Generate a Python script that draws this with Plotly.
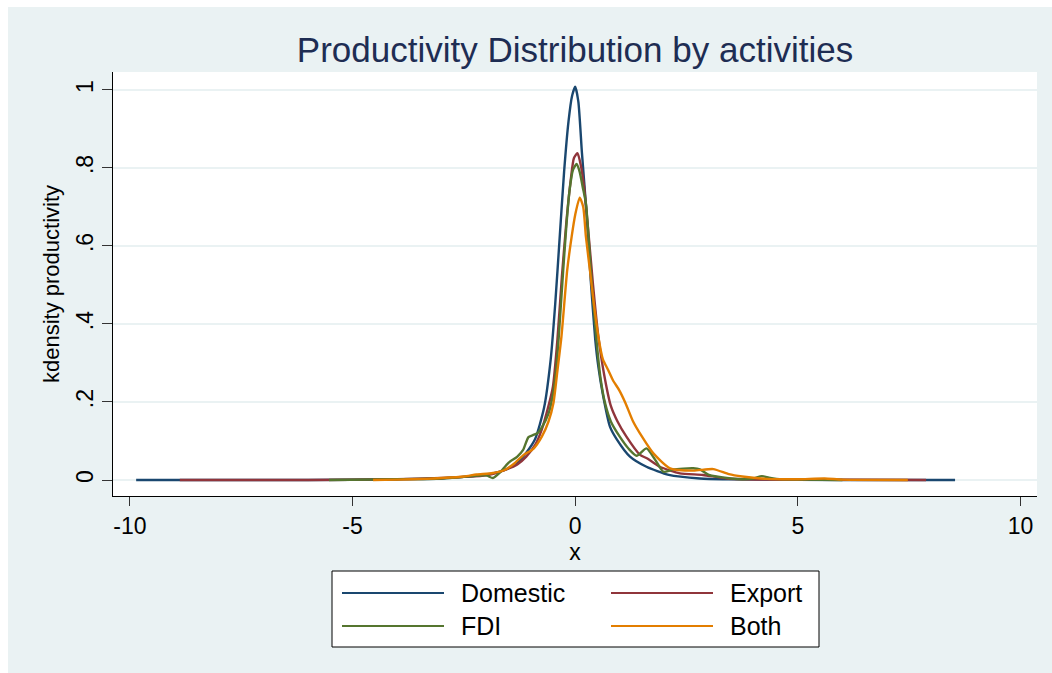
import plotly.graph_objects as go

# ---------------- data ----------------
series_names = ["Domestic", "Export", "FDI", "Both"]
series_colors = ["#1a476f", "#90353b", "#55752f", "#e37e00"]

domestic_x = [-9.86, -8, -6, -4, -3, -2.5, -2, -1.6, -1.3, -1.1, -0.9, -0.7, -0.55, -0.45,
              -0.35, -0.25, -0.15, -0.07, 0, 0.07, 0.15, 0.25, 0.35, 0.45, 0.52, 0.62, 0.78,
              0.93, 1.23, 1.6, 2.1, 2.8, 3.5, 5, 7, 8.53]
domestic_y = [0, 0, 0, 0.002, 0.004, 0.008, 0.014, 0.025, 0.045, 0.07, 0.105, 0.185, 0.31, 0.45,
              0.62, 0.79, 0.92, 0.985, 1.008, 0.97, 0.84, 0.69, 0.51, 0.36, 0.29, 0.22, 0.137,
              0.105, 0.06, 0.034, 0.013, 0.004, 0.002, 0.0005, 0, 0]

export_x = [-8.88, -6, -4, -3, -2.5, -2, -1.6, -1.3, -1.1, -0.9, -0.75, -0.6, -0.5, -0.4, -0.3,
            -0.2, -0.1, -0.03, 0.05, 0.12, 0.2, 0.3, 0.4, 0.52, 0.65, 0.8, 0.95, 1.15, 1.45,
            1.62, 1.9, 2.35, 2.87, 3.4, 4.5, 6, 7.88]
export_y = [0, 0, 0.002, 0.005, 0.008, 0.012, 0.025, 0.04, 0.06, 0.09, 0.13, 0.19, 0.24, 0.36,
            0.52, 0.66, 0.77, 0.825, 0.838, 0.81, 0.75, 0.63, 0.5, 0.367, 0.27, 0.19, 0.15,
            0.111, 0.065, 0.055, 0.034, 0.017, 0.013, 0.004, 0.001, 0.0005, 0]

fdi_x = [-5.53, -4, -3, -2.5, -2, -1.85, -1.7, -1.5, -1.3, -1.17, -1.05, -0.95, -0.85, -0.75,
         -0.6, -0.5, -0.43, -0.37, -0.27, -0.2, -0.13, -0.05, 0.03, 0.1, 0.17, 0.24, 0.35,
         0.47, 0.57, 0.67, 0.8, 1.0, 1.2, 1.38, 1.6, 1.8, 1.98, 2.2, 2.65, 2.8, 3.0, 3.5,
         3.75, 4.0, 4.19, 4.35, 4.52, 5.0, 6.0]
fdi_y = [0, 0.002, 0.004, 0.008, 0.012, 0.005, 0.018, 0.044, 0.06, 0.077, 0.11, 0.115, 0.12,
         0.135, 0.17, 0.22, 0.282, 0.367, 0.538, 0.65, 0.74, 0.795, 0.81, 0.79, 0.75, 0.709,
         0.538, 0.367, 0.26, 0.197, 0.15, 0.111, 0.08, 0.062, 0.081, 0.051, 0.021, 0.027,
         0.030, 0.027, 0.013, 0.004, 0.002, 0.004, 0.010, 0.006, 0.003, 0.001, 0]

both_x = [-4.54, -4, -3.34, -3, -2.5, -2.22, -1.85, -1.6, -1.36, -1.15, -0.94, -0.75, -0.6,
          -0.49, -0.4, -0.31, -0.18, -0.08, 0.0, 0.1, 0.18, 0.24, 0.33, 0.42, 0.52, 0.62,
          0.74, 0.85, 0.99, 1.13, 1.3, 1.5, 1.75, 2.13, 2.65, 3.1, 3.45, 3.75, 4.3, 5.0,
          5.6, 6.0, 7.47]
both_y = [0, 0.001, 0.003, 0.005, 0.009, 0.014, 0.018, 0.025, 0.043, 0.065, 0.08, 0.111, 0.15,
          0.197, 0.28, 0.367, 0.538, 0.624, 0.68, 0.724, 0.70, 0.624, 0.538, 0.45, 0.367,
          0.31, 0.282, 0.255, 0.23, 0.197, 0.15, 0.111, 0.069, 0.03, 0.024, 0.028, 0.015,
          0.009, 0.003, 0.002, 0.004, 0.001, 0]

series_x = [domestic_x, export_x, fdi_x, both_x]
series_y = [domestic_y, export_y, fdi_y, both_y]

x_tickvals = [-10, -5, 0, 5, 10]
x_ticktext = ["-10", "-5", "0", "5", "10"]
y_tickvals = [0, 0.2, 0.4, 0.6, 0.8, 1.0]
y_ticktext = ["0", ".2", ".4", ".6", ".8", "1"]

title_text = "Productivity Distribution by activities"
x_title = "x"
y_title = "kdensity productivity"

# ---------------- layout ----------------
W, H = 1052, 673
ML, MR, MT, MB = 113, 15, 72, 177
PW, PH = W - ML - MR, H - MT - MB
BG = "#eaf2f3"
FONT = "Liberation Sans, Arial, sans-serif"


def px2x(p):
    return (p - ML) / PW


def py2y(p):
    return (H - MB - p) / PH


fig = go.Figure()
for name, col, xs, ys in zip(series_names, series_colors, series_x, series_y):
    fig.add_trace(go.Scatter(x=xs, y=ys, mode="lines", name=name,
                             line=dict(color=col, width=2.4, shape="spline", smoothing=0.6),
                             showlegend=False))

shapes = [
    # thin white page border at left and top
    dict(type="rect", xref="paper", yref="paper", x0=px2x(-5), x1=px2x(8),
         y0=py2y(H + 5), y1=py2y(-5), fillcolor="white", line=dict(width=0), layer="below"),
    dict(type="rect", xref="paper", yref="paper", x0=px2x(-5), x1=px2x(W + 5),
         y0=py2y(7), y1=py2y(-5), fillcolor="white", line=dict(width=0), layer="below"),
    # legend box
    dict(type="rect", xref="paper", yref="paper", x0=px2x(332), x1=px2x(819),
         y0=py2y(647), y1=py2y(571), fillcolor="white", line=dict(color="black", width=1),
         layer="below"),
]
annotations = []
leg_rows = [593, 626]
leg_cols = [(342, 444, 459), (611, 713, 728)]
for i, (name, col) in enumerate(zip(series_names, series_colors)):
    r, c = divmod(i, 2)
    lx0, lx1, tx = leg_cols[c]
    yy = py2y(leg_rows[r])
    shapes.append(dict(type="line", xref="paper", yref="paper", x0=px2x(lx0), x1=px2x(lx1),
                       y0=yy, y1=yy, line=dict(color=col, width=2)))
    annotations.append(dict(text=name, xref="paper", yref="paper", x=px2x(tx), y=yy,
                            xanchor="left", yanchor="middle", showarrow=False,
                            font=dict(family=FONT, size=25, color="black")))

fig.update_layout(
    width=W, height=H,
    margin=dict(l=ML, r=MR, t=MT, b=MB, pad=0),
    paper_bgcolor=BG, plot_bgcolor="white",
    title=dict(text=title_text, x=0.5, xref="paper", xanchor="center",
               y=1 - 50 / H, yref="container", yanchor="middle",
               font=dict(family=FONT, size=35, color="#1e2d53")),
    font=dict(family=FONT, color="black"),
    shapes=shapes, annotations=annotations,
    xaxis=dict(range=[-10.38, 10.37], tickvals=x_tickvals, ticktext=x_ticktext,
               showgrid=False, zeroline=False, showline=True, linecolor="black", linewidth=1,
               ticks="outside", ticklen=9, tickcolor="#333", tickwidth=1,
               tickfont=dict(family=FONT, size=23, color="black"),
               title=dict(text=x_title, font=dict(family=FONT, size=23, color="black"),
                          standoff=0)),
    yaxis=dict(range=[-0.041, 1.046], tickvals=y_tickvals, ticktext=y_ticktext,
               showgrid=True, gridcolor=BG, gridwidth=1.5, zeroline=False,
               showline=True, linecolor="black", linewidth=1,
               ticks="outside", ticklen=10, tickcolor="#333", tickwidth=1, tickangle=-90,
               tickfont=dict(family=FONT, size=23, color="black"),
               title=dict(text=y_title, font=dict(family=FONT, size=22, color="black"),
                          standoff=6)),
)

fig.write_html("out.html")
